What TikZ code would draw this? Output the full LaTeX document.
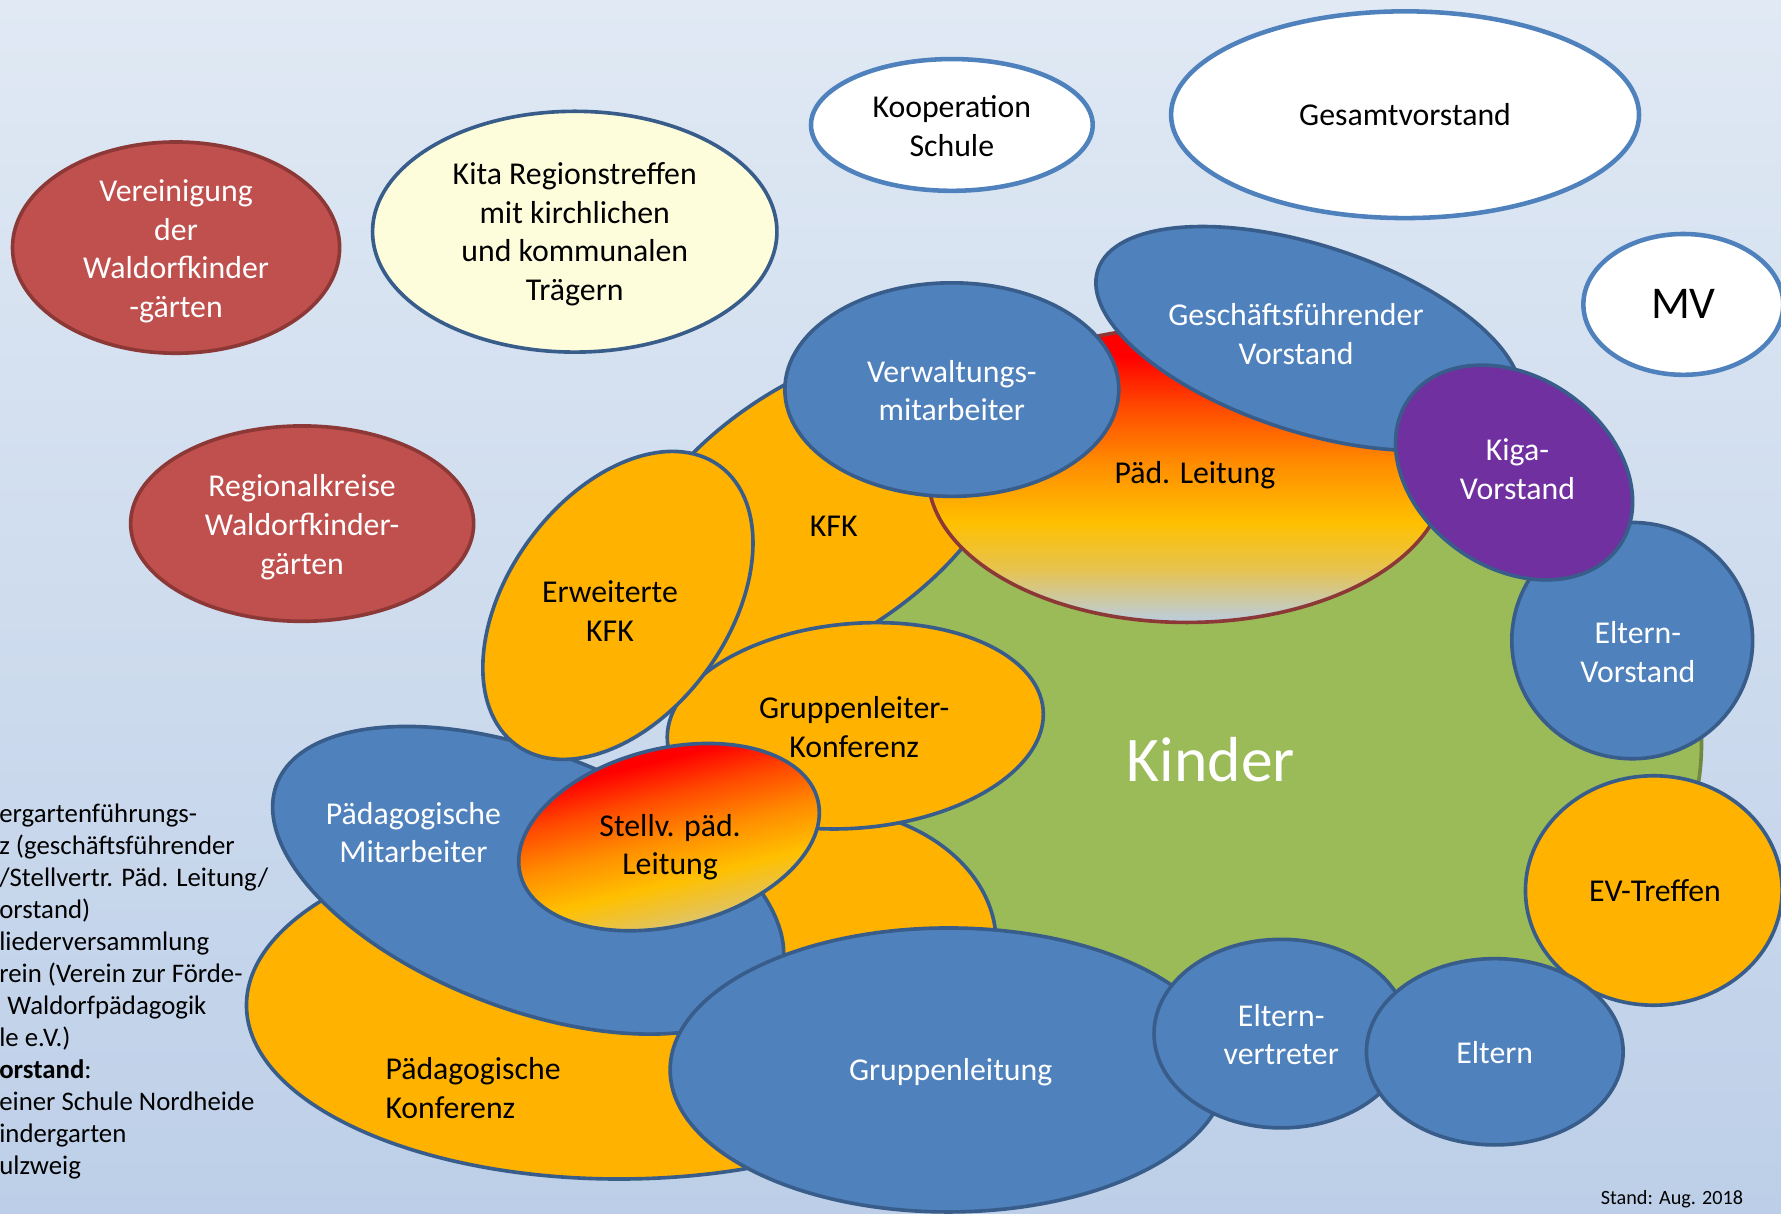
\documentclass[tikz,border=0pt]{standalone}
\usepackage{fontspec}
\setmainfont{Carlito}

\definecolor{bgtop}{RGB}{224,233,244}
\definecolor{bgbot}{RGB}{189,207,232}
\definecolor{blfill}{RGB}{79,129,189}
\definecolor{blline}{RGB}{56,93,138}
\definecolor{orfill}{RGB}{255,178,0}
\definecolor{rdfill}{RGB}{192,80,77}
\definecolor{rdline}{RGB}{140,56,54}
\definecolor{grfill}{RGB}{155,187,89}
\definecolor{grline}{RGB}{113,137,63}
\definecolor{pufill}{RGB}{112,48,160}
\definecolor{yefill}{RGB}{253,253,220}
\definecolor{gred}{RGB}{255,0,0}
\definecolor{gredor}{RGB}{255,70,0}
\definecolor{gorange}{RGB}{255,140,0}
\definecolor{ggold}{RGB}{255,192,0}
\definecolor{gmix}{RGB}{230,195,80}
\definecolor{glow}{RGB}{185,205,226}

\pgfdeclareverticalshading{leitung}{100bp}{%
  color(0bp)=(glow); color(25bp)=(glow); color(34bp)=(gmix);
  color(42bp)=(ggold); color(52bp)=(gorange); color(62bp)=(gredor);
  color(70bp)=(gred); color(100bp)=(gred)}

\begin{document}
\begin{tikzpicture}[x=0.5pt,y=-0.5pt]
\tikzstyle{bubble}=[line width=1.6pt]
\tikzstyle{bluebub}=[bubble, fill=blfill, draw=blline]
\tikzstyle{orangebub}=[bubble, fill=orfill, draw=blline]
\tikzstyle{redbub}=[bubble, fill=rdfill, draw=rdline]
\tikzstyle{whitebub}=[bubble, fill=white, draw=blfill, line width=2pt]
\tikzstyle{yellowbub}=[bubble, fill=yefill, draw=blline]
\tikzstyle{purplebub}=[bubble, fill=pufill, draw=blline]
\tikzstyle{greenbub}=[bubble, fill=grfill, draw=grline]
\tikzstyle{gradbub}=[bubble, shade, shading=leitung]
\tikzstyle{txtw}=[text=white, font=\fontsize{14}{17}\selectfont, align=center, inner sep=0pt]
\tikzstyle{txtb}=[txtw, text=black]
\tikzstyle{lower}=[yshift=-1.1pt]

\useasboundingbox (0,0) rectangle (1568,1068);
\shade[top color=bgtop, bottom color=bgbot] (0,0) rectangle (1568,1068);

% outer bubbles
\path[redbub] (155,218) ellipse [x radius=144, y radius=93];
\path[redbub] (266,461) ellipse [x radius=151, y radius=86];
\path[yellowbub] (506,204) ellipse [x radius=178, y radius=106];
\path[whitebub] (838,110) ellipse [x radius=124, y radius=58];
\path[whitebub] (1237,101) ellipse [x radius=206, y radius=91];
\path[whitebub] (1482,268) ellipse [x radius=88, y radius=62];

% Kinder in the middle
\path[greenbub] (1090,655) ellipse [x radius=408, y radius=295];

% upper ring
\path[orangebub, rotate around={35:(720,450)}] (720,450) ellipse [x radius=200, y radius=110];
\path[gradbub, draw=rdline] (1045,418) ellipse [x radius=228, y radius=130];
\path[bluebub] (838,343) ellipse [x radius=147, y radius=94];
\path[bluebub, rotate around={-18:(1152,298)}] (1152,298) ellipse [x radius=195, y radius=82];
\path[bluebub] (1437,564) ellipse [x radius=106, y radius=104];
\path[purplebub, rotate around={-35:(1333,416)}] (1333,416) ellipse [x radius=113, y radius=84];

% lower left ring
\path[orangebub] (545,885) ellipse [x radius=328, y radius=153];
\path[orangebub] (720,830) ellipse [x radius=157, y radius=119];
\path[orangebub, rotate around={5:(753,639)}] (753,639) ellipse [x radius=166, y radius=90];
\path[bluebub, rotate around={-21:(465,775)}] (465,775) ellipse [x radius=237, y radius=113];
\path[orangebub, rotate around={54:(544,533)}] (544,533) ellipse [x radius=152, y radius=97];
\path[gradbub, draw=blline, shading angle=14, rotate around={14:(589,737)}] (589,737) ellipse [x radius=135, y radius=78];

% lower right ring
\path[bluebub] (835,942) ellipse [x radius=245, y radius=125];
\path[orangebub] (1456,784) ellipse [x radius=113, y radius=101];
\path[bluebub] (1128,910) ellipse [x radius=112, y radius=83];
\path[bluebub] (1316,926) ellipse [x radius=113, y radius=82];

% labels
\node[txtw, lower] (vereinigung) at (155,219) {Vereinigung\\der\\Waldorfkinder\\-gärten};
\node[txtw, lower] (regional) at (266,462) {Regionalkreise\\Waldorfkinder-\\gärten};
\node[txtb, lower] (kita) at (506,204) {Kita Regionstreffen\\mit kirchlichen\\und kommunalen\\Trägern};
\node[txtb] (kooperation) at (838,111) {Kooperation\\Schule};
\node[txtb] (gesamt) at (1237,101) {Gesamtvorstand};
\node[txtb, font=\fontsize{20}{24}\selectfont] (mv) at (1482,268) {MV};
\node[txtw, font=\fontsize{28}{33}\selectfont] (kinder) at (1066,669) {Kinder};
\node[txtb] (kfk) at (734,463) {KFK};
\node[txtb, lower] (paedleitung) at (1052,416) {Päd. Leitung};
\node[txtw] (verwaltung) at (838,344) {Verwaltungs-\\mitarbeiter};
\node[txtw] (gfvorstand) at (1141,294) {Geschäftsführender\\Vorstand};
\node[txtw] (kiga) at (1336,413) {Kiga-\\Vorstand};
\node[txtw] (elternvorstand) at (1442,574) {Eltern-\\Vorstand};
\node[txtb] (erwkfk) at (537,538) {Erweiterte\\KFK};
\node[txtb] (glk) at (752,640) {Gruppenleiter-\\Konferenz};
\node[txtw] (paedmit) at (364,733) {Pädagogische\\Mitarbeiter};
\node[txtb] (stellv) at (590,746) {Stellv. päd.\\Leitung};
\node[txtb, align=left, anchor=west] (paedkonf) at (339,958) {Pädagogische\\Konferenz};
\node[txtw, yshift=-0.6pt] (gruppenleitung) at (837,943) {Gruppenleitung};
\node[txtb] (evtreffen) at (1457,784) {EV-Treffen};
\node[txtw] (elternvertr) at (1128,911) {Eltern-\\vertreter};
\node[txtw] (eltern) at (1316,927) {Eltern};
\node[font=\fontsize{8.9}{10}\selectfont, inner sep=0pt] (stand) at (1472,1056) {Stand: Aug. 2018};

% Legende am linken Rand
\foreach \note [count=\i] in {ergartenführungs-, {z (geschäftsführender}, {/Stellvertr. Päd. Leitung/},
  {orstand)}, liederversammlung, {rein (Verein zur Förde-}, {\hspace*{0.3em}Waldorfpädagogik},
  {le e.V.)}, {\textbf{orstand}:}, {einer Schule Nordheide}, indergarten, ulzweig} {
\node[anchor=base west, inner sep=0pt, font=\fontsize{11.8}{14}\selectfont] (note\i) at (-1,{724+(\i-1)*28.2}) {\note};
}

\end{tikzpicture}
\end{document}
